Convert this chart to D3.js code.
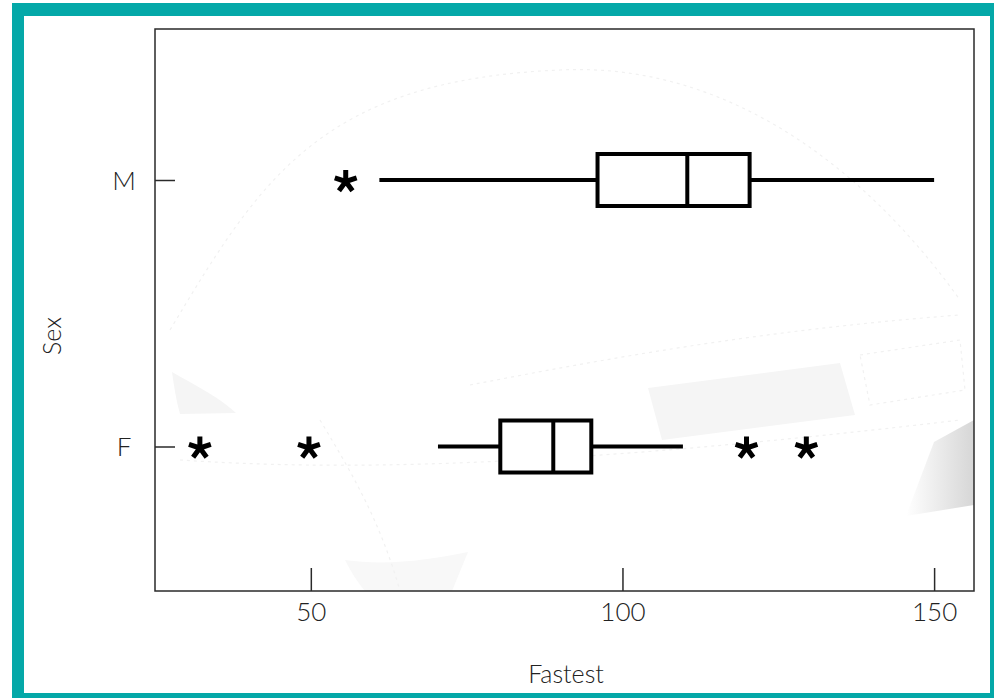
<!DOCTYPE html>
<html>
<head>
<meta charset="utf-8">
<script src="https://cdn.jsdelivr.net/npm/d3@7"></script>
<style>
  html, body { margin: 0; padding: 0; background: #fff; }
  svg { display: block; }
  .lbl { font-family: Lato, "Open Sans", sans-serif; font-weight: 300; fill: #222; }
</style>
</head>
<body>
<svg id="chart" width="994" height="698"></svg>
<script>
// Fastest speed ever driven, by sex
const categories = ["M", "F"];
const whiskerLow  = [61, 70.4];
const q1          = [96, 80.4];
const medians     = [110.4, 88.9];
const q3          = [120.4, 95];
const whiskerHigh = [150, 109.7];
const outliers    = [[55.6], [32.2, 49.7, 119.9, 129.5]];
const xTicks      = [50, 100, 150];
const xTitle = "Fastest";
const yTitle = "Sex";

const svg = d3.select("#chart");
const W = 994, H = 698;
const plot = { left: 155, right: 974, top: 29, bottom: 591 };

// teal page frame
svg.append("rect").attr("x", 12).attr("y", 3).attr("width", W).attr("height", H).attr("fill", "#04a8a8");
svg.append("rect").attr("x", 24).attr("y", 16).attr("width", 966).attr("height", 677).attr("fill", "#fff");

const x = d3.scaleLinear().domain([25, 156.4]).range([plot.left, plot.right]);
const y = d3.scalePoint().domain(categories).range([180, 446.5]);

// faint car artwork behind the plot
const art = svg.append("g");
const grad = svg.append("defs").append("linearGradient").attr("id", "shade")
  .attr("x1", "0").attr("x2", "1").attr("y1", "0").attr("y2", "0");
grad.append("stop").attr("offset", "0").attr("stop-color", "#fff");
grad.append("stop").attr("offset", "1").attr("stop-color", "#d6d6d6");
art.append("path").attr("d", "M648,388 L840,363 L855,415 L662,440 Z").attr("fill", "#f5f5f5");
art.append("path").attr("d", "M934,442 L974,420 L974,505 L906,516 Z").attr("fill", "url(#shade)");
art.append("path").attr("d", "M172,372 C195,385 220,398 236,413 L180,414 C176,400 174,386 172,372 Z").attr("fill", "#f5f5f5");
art.append("path").attr("d", "M345,560 C385,566 430,560 468,552 L452,591 L365,591 C356,580 350,570 345,560 Z").attr("fill", "#f8f8f8");
const dash = art.append("g").attr("fill", "none").attr("stroke", "#f1f1f1").attr("stroke-width", 1.2).attr("stroke-dasharray", "3,4");
dash.append("path").attr("d", "M170,330 C260,180 320,80 560,70 C720,62 860,160 960,300");
dash.append("path").attr("d", "M470,385 C600,360 760,330 960,315");
dash.append("path").attr("d", "M180,460 C330,470 540,470 960,420");
dash.append("path").attr("d", "M860,355 L960,340 L965,390 L870,405 Z");
dash.append("path").attr("d", "M320,420 C350,470 380,520 400,591");

// plot frame
svg.append("rect")
  .attr("x", plot.left).attr("y", plot.top)
  .attr("width", plot.right - plot.left).attr("height", plot.bottom - plot.top)
  .attr("fill", "none").attr("stroke", "#2a2a2a").attr("stroke-width", 1.5);

// x axis: inward ticks on the bottom edge
const xAxis = svg.append("g").attr("transform", `translate(0,${plot.bottom})`)
  .call(d3.axisBottom(x).tickValues(xTicks).tickSizeInner(-23).tickSizeOuter(0).tickPadding(0));
xAxis.select(".domain").remove();
xAxis.selectAll(".tick line").attr("stroke", "#2a2a2a").attr("stroke-width", 1.5);
xAxis.selectAll(".tick text").attr("class", "lbl").attr("y", 30).attr("dy", 0)
  .style("font-size", "26px");

// y axis: inward ticks on the left edge
const yAxis = svg.append("g").attr("transform", `translate(${plot.left},0)`)
  .call(d3.axisLeft(y).tickSizeInner(-20).tickSizeOuter(0).tickPadding(0));
yAxis.select(".domain").remove();
yAxis.selectAll(".tick line").attr("stroke", "#2a2a2a").attr("stroke-width", 1.5);
yAxis.selectAll(".tick text").attr("class", "lbl").attr("x", -31).attr("dy", "0.36em")
  .attr("text-anchor", "middle").style("font-size", "26px");

// axis titles
svg.append("text").attr("class", "lbl").attr("x", 566).attr("y", 683)
  .attr("text-anchor", "middle").style("font-size", "25px").text(xTitle);
svg.append("text").attr("class", "lbl")
  .attr("transform", "translate(61,336) rotate(-90)")
  .attr("text-anchor", "middle").style("font-size", "25px").text(yTitle);

// boxes and whiskers
const half = 26;
const boxes = svg.append("g").attr("stroke", "#000").attr("stroke-width", 4).attr("fill", "#fff");
categories.forEach((c, i) => {
  const cy = y(c);
  boxes.append("line").attr("x1", x(whiskerLow[i])).attr("x2", x(q1[i])).attr("y1", cy).attr("y2", cy);
  boxes.append("line").attr("x1", x(q3[i])).attr("x2", x(whiskerHigh[i])).attr("y1", cy).attr("y2", cy);
  boxes.append("rect").attr("x", x(q1[i])).attr("y", cy - half)
    .attr("width", x(q3[i]) - x(q1[i])).attr("height", 2 * half);
  boxes.append("line").attr("x1", x(medians[i])).attr("x2", x(medians[i]))
    .attr("y1", cy - half).attr("y2", cy + half);
});

// outliers drawn as five-armed asterisks
function asterisk(cx, cy, r) {
  const p = d3.path();
  for (let k = 0; k < 5; k++) {
    const a = -Math.PI / 2 + k * 2 * Math.PI / 5;
    p.moveTo(cx, cy);
    p.lineTo(cx + r * Math.cos(a), cy + r * Math.sin(a));
  }
  return p.toString();
}
const stars = svg.append("g").attr("stroke", "#000").attr("stroke-width", 5).attr("fill", "none");
categories.forEach((c, i) => {
  outliers[i].forEach(v => {
    stars.append("path").attr("d", asterisk(x(v), y(c) + 1.5, 11.5));
  });
});
</script>
</body>
</html>
